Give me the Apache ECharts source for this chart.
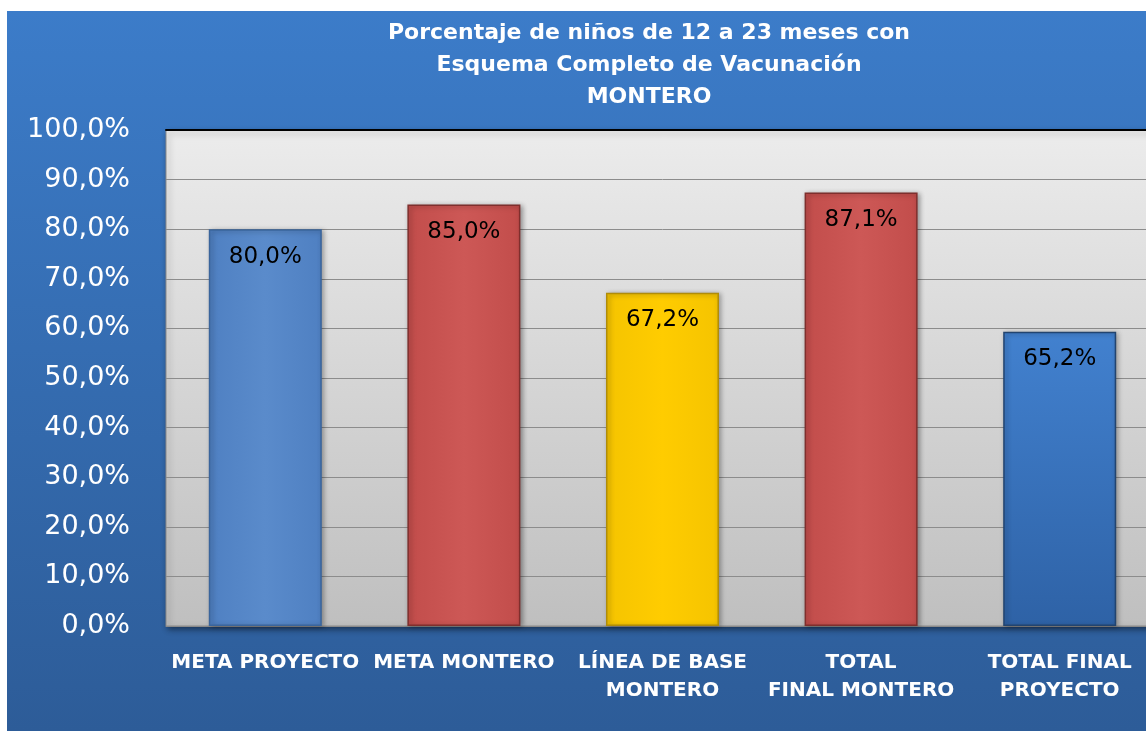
<!DOCTYPE html>
<html>
<head>
<meta charset="utf-8">
<script src="https://cdn.jsdelivr.net/npm/echarts@6/dist/echarts.min.js"></script>
<style>
html,body{margin:0;padding:0;background:#fff;overflow:hidden;}
#c{width:1162px;height:731px;}
</style>
</head>
<body>
<div id="c"></div>
<script>
const titleLines = ["Porcentaje de niños de 12 a 23 meses con", "Esquema Completo de Vacunación", "MONTERO"];
const categories = ["META PROYECTO", "META MONTERO", "LÍNEA DE BASE\nMONTERO", "TOTAL\nFINAL MONTERO", "TOTAL FINAL\nPROYECTO"];
const values = [80.0, 85.0, 67.2, 87.4, 59.3];
const valueLabels = ["80,0%", "85,0%", "67,2%", "87,1%", "65,2%"];
const yTickLabels = ["0,0%", "10,0%", "20,0%", "30,0%", "40,0%", "50,0%", "60,0%", "70,0%", "80,0%", "90,0%", "100,0%"];

const FONT = "DejaVu Sans";
function vgrad(a, b) {
  return new echarts.graphic.LinearGradient(0, 0, 0, 1, [{offset: 0, color: a}, {offset: 1, color: b}]);
}
function hgrad(a, b, c) {
  return new echarts.graphic.LinearGradient(0, 0, 1, 0, [{offset: 0, color: a}, {offset: 0.5, color: b}, {offset: 1, color: c}]);
}
const barStyles = [
  {color: hgrad('#4f80c2', '#5a8bcb', '#4f80c2'), borderColor: '#3a659c'},
  {color: hgrad('#c24d4b', '#cd5856', '#c24d4b'), borderColor: '#7f2f2d'},
  {color: hgrad('#f5c400', '#ffcc00', '#f5c400'), borderColor: '#b08c08'},
  {color: hgrad('#c24d4b', '#cd5856', '#c24d4b'), borderColor: '#7f2f2d'},
  {color: vgrad('#4281cf', '#2e62a6'), borderColor: '#22446f'}
];

const chart = echarts.init(document.getElementById('c'), null, {renderer: 'canvas'});
chart.setOption({
  backgroundColor: '#ffffff',
  animation: false,
  graphic: [{
    type: 'rect', z: -10, silent: true,
    shape: {x: 7, y: 11, width: 1162 - 7, height: 731 - 11},
    style: {fill: vgrad('#3c7cc9', '#2d5c98')}
  }],
  title: {
    text: titleLines.join('\n'),
    left: 644, top: 12, textAlign: 'center',
    textStyle: {color: '#ffffff', fontFamily: FONT, fontWeight: 'bold', fontSize: 22, lineHeight: 32}
  },
  grid: {
    left: 166, top: 130, width: 993, height: 496,
    show: true,
    backgroundColor: vgrad('#ececec', '#bfbfbf'),
    borderColor: '#8a8a8a', borderWidth: 1,
    shadowColor: 'rgba(0,0,0,0.45)', shadowBlur: 6, shadowOffsetX: 2, shadowOffsetY: 3
  },
  xAxis: [{
    type: 'category', data: categories,
    axisLine: {show: true, lineStyle: {color: '#8a8a8a', width: 1}},
    axisTick: {show: false},
    axisLabel: {interval: 0, color: '#ffffff', fontFamily: FONT, fontWeight: 'bold', fontSize: 20, lineHeight: 28, margin: 23}
  }, {
    type: 'category', data: categories, position: 'top',
    axisLine: {show: true, lineStyle: {color: '#000000', width: 2}},
    axisTick: {show: false}, axisLabel: {show: false}
  }],
  yAxis: {
    type: 'value', min: 0, max: 100, interval: 10,
    axisLine: {show: false}, axisTick: {show: false},
    axisLabel: {color: '#ffffff', fontFamily: FONT, fontSize: 27, margin: 36,
      formatter: function (v) { return yTickLabels[Math.round(v / 10)]; }},
    splitLine: {show: true, lineStyle: {color: '#8c8c8c', width: 1}}
  },
  series: [{
    type: 'bar',
    barWidth: 113,
    data: values.map(function (v, i) {
      return {value: v, itemStyle: {color: barStyles[i].color, borderColor: barStyles[i].borderColor, borderWidth: 1.5,
        shadowColor: 'rgba(0,0,0,0.35)', shadowBlur: 5, shadowOffsetX: 2, shadowOffsetY: 1}};
    }),
    label: {
      show: true, position: 'insideTop', distance: 16,
      color: '#000000', fontFamily: FONT, fontSize: 23,
      formatter: function (p) { return valueLabels[p.dataIndex]; }
    }
  }]
});
</script>
</body>
</html>
